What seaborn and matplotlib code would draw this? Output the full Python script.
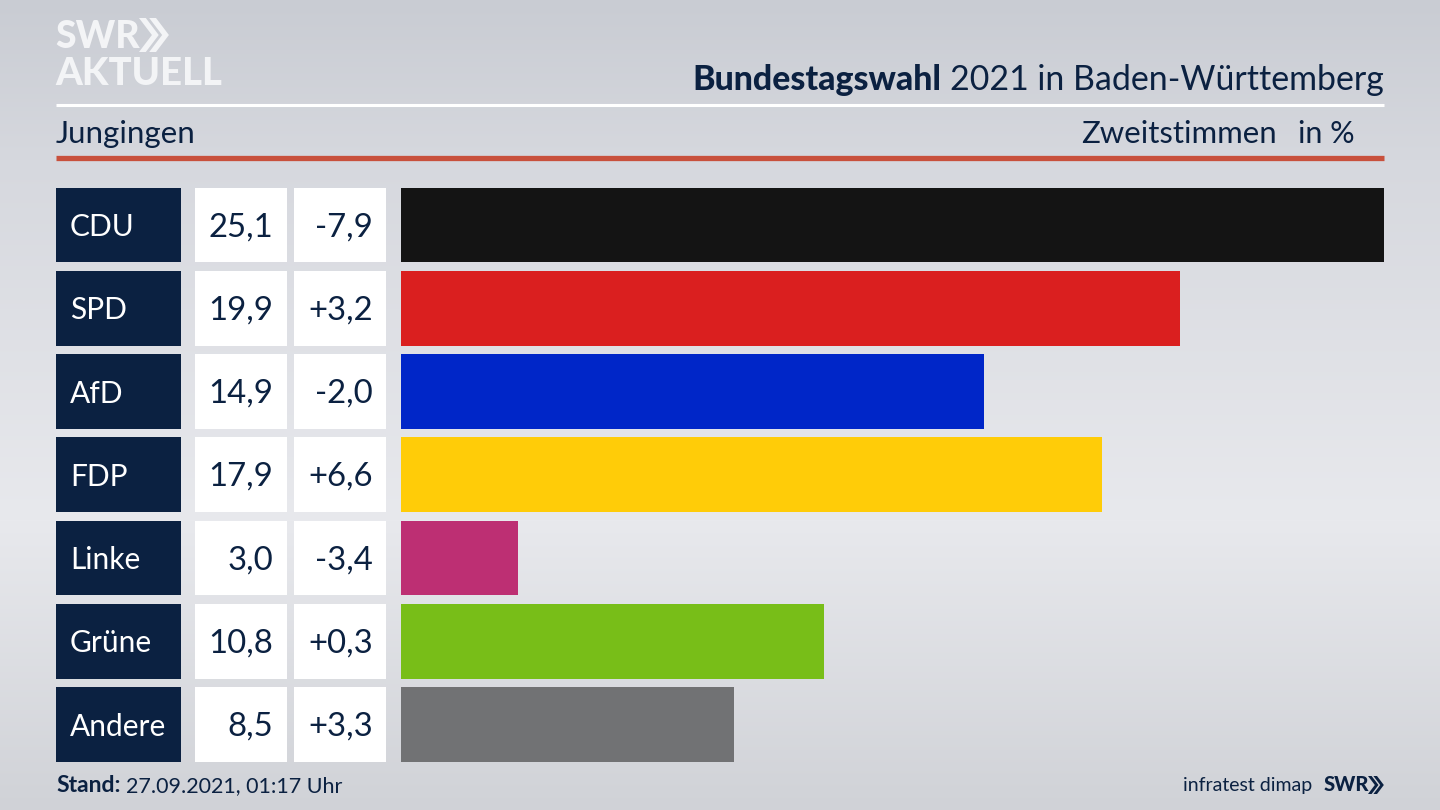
import numpy as np
import pandas as pd
import matplotlib
matplotlib.use("Agg")
import matplotlib.pyplot as plt
from matplotlib.patches import Polygon
import seaborn as sns

# values
parties = ["CDU", "SPD", "AfD", "FDP", "Linke", "Grüne", "Andere"]
shares = [25.1, 19.9, 14.9, 17.9, 3.0, 10.8, 8.5]
changes = ["-7,9", "+3,2", "-2,0", "+6,6", "-3,4", "+0,3", "+3,3"]
share_labels = ["25,1", "19,9", "14,9", "17,9", "3,0", "10,8", "8,5"]
party_colors = ["#141414", "#da1f1f", "#0026c8", "#ffcc08", "#bd2f73", "#78be18", "#717274"]

NAVY = "#0b2141"
LOGO = "#f3f4f6"
W, H = 1440, 810

sns.set_theme(style="white")
plt.rcParams["font.family"] = ["Lato", "DejaVu Sans"]


def axes_px(fig, x0, y0, x1, y1):
    return fig.add_axes([x0 / W, 1 - y1 / H, (x1 - x0) / W, (y1 - y0) / H])


def chevrons(ax, x, y, h, color):
    a = h * 0.38
    t = h * 0.2
    for dx in (0, h * 0.3):
        ax.add_patch(Polygon([(x + dx, y), (x + dx + t, y), (x + dx + t + a, y + h / 2),
                              (x + dx + t, y + h), (x + dx, y + h), (x + dx + a, y + h / 2)],
                             closed=True, color=color, lw=0))


fig = plt.figure(figsize=(14.4, 8.1), dpi=100)

# background gradient plus everything placed in pixel coordinates
bg = axes_px(fig, 0, 0, W, H)
stops_y = [0, 160, 520, 810]
stops_rgb = [(201, 204, 211), (214, 216, 222), (232, 233, 237), (208, 210, 215)]
grad = np.stack([np.interp(np.arange(H), stops_y, [c[k] for c in stops_rgb]) for k in range(3)], axis=-1)
bg.imshow((grad / 255)[:, None, :], extent=(0, W, H, 0), aspect="auto")
bg.set_xlim(0, W)
bg.set_ylim(H, 0)
bg.axis("off")

# logo
bg.text(55, 37, "SWR", color=LOGO, fontsize=27, fontweight="black", va="center", ha="left")
chevrons(bg, 139, 18, 34, LOGO)
bg.text(55, 74, "AKTUELL", color=LOGO, fontsize=27.5, fontweight="black", va="center", ha="left")

# header
bg.plot([56, 1384], [105, 105], color="white", lw=2.2, solid_capstyle="butt")
bg.plot([56, 1384], [157.5, 157.5], color="#c8503c", lw=3.8, solid_capstyle="butt")
title_end = bg.text(1384, 80, "2021 in Baden-Württemberg", color=NAVY, fontsize=24.4, va="center", ha="right")
fig.canvas.draw()
tb = title_end.get_window_extent()
bg.text(tb.x0 * W / fig.bbox.width - 9, 80, "Bundestagswahl", color=NAVY, fontsize=24.4,
        fontweight="black", va="center", ha="right")
bg.text(56, 134, "Jungingen", color=NAVY, fontsize=22.5, va="center", ha="left")
bg.text(1277, 134, "Zweitstimmen", color=NAVY, fontsize=22.4, va="center", ha="right")
bg.text(1355, 134, "in %", color=NAVY, fontsize=22, va="center", ha="right")

# footer
bg.text(56, 792, "Stand:", color=NAVY, fontsize=16.5, fontweight="bold", va="baseline", ha="left")
bg.text(126, 792, "27.09.2021, 01:17 Uhr", color=NAVY, fontsize=15.5, va="baseline", ha="left")
bg.text(1312, 791, "infratest dimap", color=NAVY, fontsize=14, va="baseline", ha="right")
bg.text(1324, 791, "SWR", color=NAVY, fontsize=14.5, fontweight="black", va="baseline", ha="left")
chevrons(bg, 1368, 776, 18, NAVY)

# bars
df = pd.DataFrame({"party": parties, "share": shares})
ax = axes_px(fig, 400.5, 187.5, 1384, 762)
ax.patch.set_alpha(0)
sns.barplot(data=df, x="share", y="party", hue="party", palette=party_colors, legend=False,
            width=0.9, saturation=1, linewidth=0, edgecolor="none", ax=ax, orient="h")
ax.set_xlim(0, 25.1)
ax.set_ylim(6.45, -0.45)
ax.axis("off")

# table cells, same row scale as the bars
tab = axes_px(fig, 56, 187.5, 386, 762)
tab.patch.set_alpha(0)
tab.set_xlim(56, 386)
tab.set_ylim(6.45, -0.45)
tab.axis("off")
rows = np.arange(len(parties))
tab.barh(rows, 125, left=56, height=0.9, color=NAVY, lw=0)
tab.barh(rows, 92, left=195, height=0.9, color="white", lw=0)
tab.barh(rows, 92, left=294, height=0.9, color="white", lw=0)
for i, (p, s, c) in enumerate(zip(parties, share_labels, changes)):
    tab.text(70, i + 0.025, p, color="white", fontsize=21.5, va="center", ha="left")
    tab.text(273.5, i + 0.025, s, color=NAVY, fontsize=23.7, va="center", ha="right")
    tab.text(373, i + 0.025, c, color=NAVY, fontsize=23.7, va="center", ha="right")

fig.savefig("out.png", dpi=100)
